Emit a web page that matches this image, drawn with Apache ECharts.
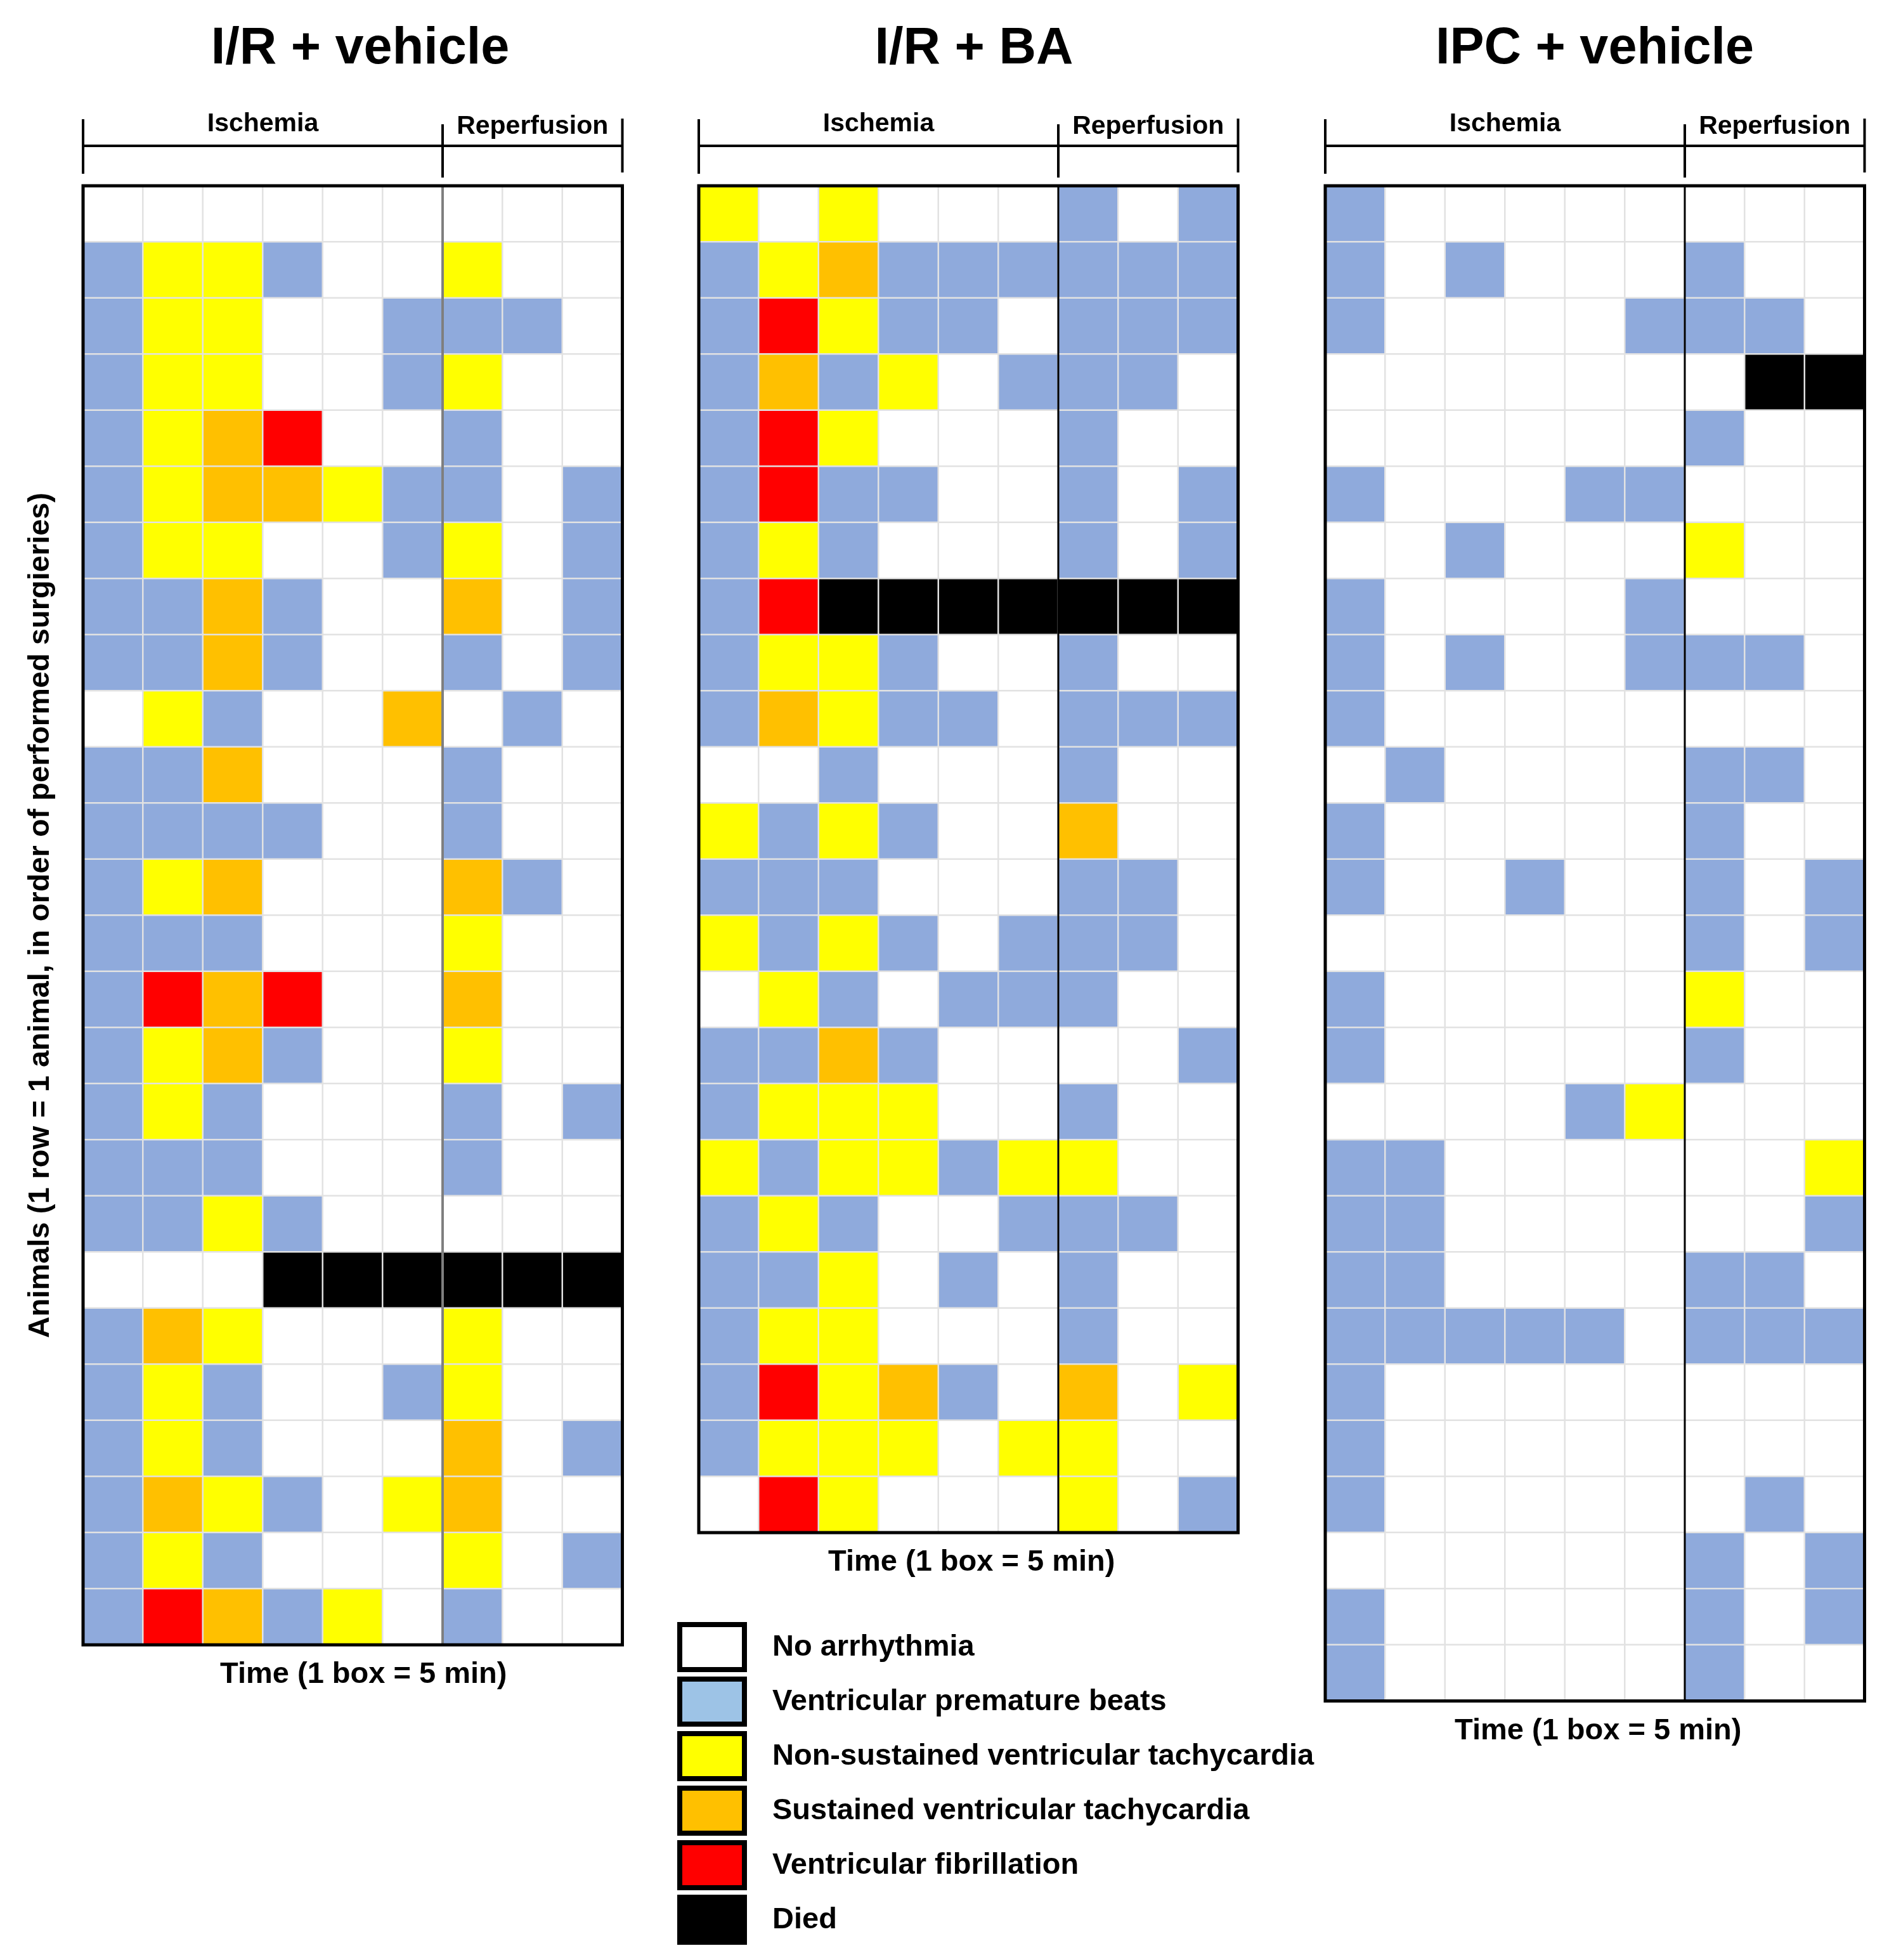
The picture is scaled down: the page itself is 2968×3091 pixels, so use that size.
<!DOCTYPE html>
<html>
<head>
<meta charset="utf-8">
<title>Arrhythmia heat maps</title>
<script src="https://cdn.jsdelivr.net/npm/echarts@6/dist/echarts.min.js"></script>
<style>
  html, body { margin: 0; padding: 0; background: #fff; }
  #chart { width: 2968px; height: 3091px; }
</style>
</head>
<body>
<div id="chart"></div>
<script>
// one box = 5 min: 6 boxes ischemia, 3 boxes reperfusion
const timeBoxes = ['I1', 'I2', 'I3', 'I4', 'I5', 'I6', 'R1', 'R2', 'R3'];
const ischemiaBoxes = 6;

// codes: 0 none, 1 VPB, 2 NSVT, 3 SVT, 4 VF, 5 died
const statusNames = [
  'No arrhythmia',
  'Ventricular premature beats',
  'Non-sustained ventricular tachycardia',
  'Sustained ventricular tachycardia',
  'Ventricular fibrillation',
  'Died'
];

const vehicleRows = [
  [0, 0, 0, 0, 0, 0, 0, 0, 0],
  [1, 2, 2, 1, 0, 0, 2, 0, 0],
  [1, 2, 2, 0, 0, 1, 1, 1, 0],
  [1, 2, 2, 0, 0, 1, 2, 0, 0],
  [1, 2, 3, 4, 0, 0, 1, 0, 0],
  [1, 2, 3, 3, 2, 1, 1, 0, 1],
  [1, 2, 2, 0, 0, 1, 2, 0, 1],
  [1, 1, 3, 1, 0, 0, 3, 0, 1],
  [1, 1, 3, 1, 0, 0, 1, 0, 1],
  [0, 2, 1, 0, 0, 3, 0, 1, 0],
  [1, 1, 3, 0, 0, 0, 1, 0, 0],
  [1, 1, 1, 1, 0, 0, 1, 0, 0],
  [1, 2, 3, 0, 0, 0, 3, 1, 0],
  [1, 1, 1, 0, 0, 0, 2, 0, 0],
  [1, 4, 3, 4, 0, 0, 3, 0, 0],
  [1, 2, 3, 1, 0, 0, 2, 0, 0],
  [1, 2, 1, 0, 0, 0, 1, 0, 1],
  [1, 1, 1, 0, 0, 0, 1, 0, 0],
  [1, 1, 2, 1, 0, 0, 0, 0, 0],
  [0, 0, 0, 5, 5, 5, 5, 5, 5],
  [1, 3, 2, 0, 0, 0, 2, 0, 0],
  [1, 2, 1, 0, 0, 1, 2, 0, 0],
  [1, 2, 1, 0, 0, 0, 3, 0, 1],
  [1, 3, 2, 1, 0, 2, 3, 0, 0],
  [1, 2, 1, 0, 0, 0, 2, 0, 1],
  [1, 4, 3, 1, 2, 0, 1, 0, 0]
];

const baRows = [
  [2, 0, 2, 0, 0, 0, 1, 0, 1],
  [1, 2, 3, 1, 1, 1, 1, 1, 1],
  [1, 4, 2, 1, 1, 0, 1, 1, 1],
  [1, 3, 1, 2, 0, 1, 1, 1, 0],
  [1, 4, 2, 0, 0, 0, 1, 0, 0],
  [1, 4, 1, 1, 0, 0, 1, 0, 1],
  [1, 2, 1, 0, 0, 0, 1, 0, 1],
  [1, 4, 5, 5, 5, 5, 5, 5, 5],
  [1, 2, 2, 1, 0, 0, 1, 0, 0],
  [1, 3, 2, 1, 1, 0, 1, 1, 1],
  [0, 0, 1, 0, 0, 0, 1, 0, 0],
  [2, 1, 2, 1, 0, 0, 3, 0, 0],
  [1, 1, 1, 0, 0, 0, 1, 1, 0],
  [2, 1, 2, 1, 0, 1, 1, 1, 0],
  [0, 2, 1, 0, 1, 1, 1, 0, 0],
  [1, 1, 3, 1, 0, 0, 0, 0, 1],
  [1, 2, 2, 2, 0, 0, 1, 0, 0],
  [2, 1, 2, 2, 1, 2, 2, 0, 0],
  [1, 2, 1, 0, 0, 1, 1, 1, 0],
  [1, 1, 2, 0, 1, 0, 1, 0, 0],
  [1, 2, 2, 0, 0, 0, 1, 0, 0],
  [1, 4, 2, 3, 1, 0, 3, 0, 2],
  [1, 2, 2, 2, 0, 2, 2, 0, 0],
  [0, 4, 2, 0, 0, 0, 2, 0, 1]
];

const ipcRows = [
  [1, 0, 0, 0, 0, 0, 0, 0, 0],
  [1, 0, 1, 0, 0, 0, 1, 0, 0],
  [1, 0, 0, 0, 0, 1, 1, 1, 0],
  [0, 0, 0, 0, 0, 0, 0, 5, 5],
  [0, 0, 0, 0, 0, 0, 1, 0, 0],
  [1, 0, 0, 0, 1, 1, 0, 0, 0],
  [0, 0, 1, 0, 0, 0, 2, 0, 0],
  [1, 0, 0, 0, 0, 1, 0, 0, 0],
  [1, 0, 1, 0, 0, 1, 1, 1, 0],
  [1, 0, 0, 0, 0, 0, 0, 0, 0],
  [0, 1, 0, 0, 0, 0, 1, 1, 0],
  [1, 0, 0, 0, 0, 0, 1, 0, 0],
  [1, 0, 0, 1, 0, 0, 1, 0, 1],
  [0, 0, 0, 0, 0, 0, 1, 0, 1],
  [1, 0, 0, 0, 0, 0, 2, 0, 0],
  [1, 0, 0, 0, 0, 0, 1, 0, 0],
  [0, 0, 0, 0, 1, 2, 0, 0, 0],
  [1, 1, 0, 0, 0, 0, 0, 0, 2],
  [1, 1, 0, 0, 0, 0, 0, 0, 1],
  [1, 1, 0, 0, 0, 0, 1, 1, 0],
  [1, 1, 1, 1, 1, 0, 1, 1, 1],
  [1, 0, 0, 0, 0, 0, 0, 0, 0],
  [1, 0, 0, 0, 0, 0, 0, 0, 0],
  [1, 0, 0, 0, 0, 0, 0, 1, 0],
  [0, 0, 0, 0, 0, 0, 1, 0, 1],
  [1, 0, 0, 0, 0, 0, 1, 0, 1],
  [1, 0, 0, 0, 0, 0, 1, 0, 0]
];

const panelTitles = ['I/R + vehicle', 'I/R + BA', 'IPC + vehicle'];
const phaseLabels = ['Ischemia', 'Reperfusion'];
const xAxisName = 'Time (1 box = 5 min)';
const yAxisName = 'Animals (1 row = 1 animal, in order of performed surgieries)';

// ---- styling / layout ----
const FONT = '"Liberation Sans", Arial, sans-serif';
const cellColors = ['#ffffff', '#8faadc', '#ffff00', '#ffc000', '#ff0000', '#000000'];
const legendColors = ['#ffffff', '#9dc3e6', '#ffff00', '#ffc000', '#ff0000', '#000000'];
const CELL_W = 94.5;
const ROW_H = 88.5;
const GRID_TOP = 293;
const panels = [
  { rows: vehicleRows, left: 131, titleX: 568, nameShift: 34, divider: '#7f7f7f', dividerW: 4 },
  { rows: baRows, left: 1102, titleX: 1536, nameShift: 10, divider: '#000', dividerW: 3 },
  { rows: ipcRows, left: 2090, titleX: 2515, nameShift: 10, divider: '#000', dividerW: 3 }
];

const chart = echarts.init(document.getElementById('chart'));

const grids = [], xAxes = [], yAxes = [], series = [], graphics = [];

panels.forEach((p, i) => {
  const w = CELL_W * timeBoxes.length;
  const h = ROW_H * p.rows.length;
  const right = p.left + w;
  const split = p.left + CELL_W * ischemiaBoxes;

  grids.push({ left: p.left, top: GRID_TOP, width: w, height: h });

  xAxes.push({
    type: 'category', gridIndex: i, data: timeBoxes,
    axisLine: { show: false }, axisTick: { show: false }, axisLabel: { show: false },
    splitLine: { show: false },
    name: xAxisName, nameLocation: 'middle', nameGap: 24,
    nameTextStyle: {
      fontSize: 47, fontWeight: 'bold', color: '#000', fontFamily: FONT,
      padding: [0, 0, 0, p.nameShift]
    }
  });

  yAxes.push({
    type: 'category', gridIndex: i, inverse: true,
    data: p.rows.map((_, r) => 'Animal ' + (r + 1)),
    axisLine: { show: false }, axisTick: { show: false }, axisLabel: { show: false },
    splitLine: { show: false },
    name: i === 0 ? yAxisName : '',
    nameLocation: 'middle', nameGap: 43, nameRotate: 90,
    nameTextStyle: { fontSize: 47, fontWeight: 'bold', color: '#000', fontFamily: FONT }
  });

  series.push({
    type: 'heatmap', name: panelTitles[i],
    xAxisIndex: i, yAxisIndex: i,
    data: p.rows.flatMap((row, r) => row.map((v, c) => [c, r, v])),
    itemStyle: { borderColor: '#e2e2e2', borderWidth: 2.5 },
    emphasis: { disabled: true },
    progressive: 0
  });

  const line = (x1, y1, x2, y2, stroke, lw) => ({
    type: 'line', z: 100,
    shape: { x1, y1, x2, y2 },
    style: { stroke, lineWidth: lw }
  });
  const text = (t, x, y, size, align) => ({
    type: 'text', z: 100, x, y,
    style: {
      text: t, fill: '#000', align: align || 'center', verticalAlign: 'middle',
      font: 'bold ' + size + 'px ' + FONT
    }
  });

  // title and phase bracket
  graphics.push(text(panelTitles[i], p.titleX, 78, 81));
  graphics.push(text(phaseLabels[0], (p.left + split) / 2, 196, 41));
  graphics.push(text(phaseLabels[1], (split + right) / 2, 200, 41));
  graphics.push(line(p.left, 230, right, 230, '#000', 4));
  graphics.push(line(p.left, 188, p.left, 274, '#000', 4));
  graphics.push(line(split, 196, split, 280, '#000', 4));
  graphics.push(line(right, 187, right, 272, '#000', 4));

  // ischemia / reperfusion divider and outer frame
  graphics.push(line(split, GRID_TOP, split, GRID_TOP + h, p.divider, p.dividerW));
  graphics.push({
    type: 'rect', z: 101,
    shape: { x: p.left, y: GRID_TOP, width: w, height: h },
    style: { fill: null, stroke: '#000', lineWidth: 5 }
  });
});

// legend
statusNames.forEach((name, k) => {
  const y = 2562 + k * 86;
  graphics.push({
    type: 'rect', z: 100,
    shape: { x: 1072, y, width: 102, height: 71 },
    style: { fill: legendColors[k], stroke: '#000', lineWidth: 8 }
  });
  graphics.push({
    type: 'text', z: 100, x: 1218, y: y + 36,
    style: {
      text: name, fill: '#000', align: 'left', verticalAlign: 'middle',
      font: 'bold 47px ' + FONT
    }
  });
});

chart.setOption({
  backgroundColor: '#fff',
  animation: false,
  grid: grids,
  xAxis: xAxes,
  yAxis: yAxes,
  visualMap: {
    type: 'piecewise', show: false, dimension: 2, seriesIndex: [0, 1, 2],
    pieces: cellColors.map((color, v) => ({ value: v, color }))
  },
  series,
  graphic: graphics
});
</script>
</body>
</html>
